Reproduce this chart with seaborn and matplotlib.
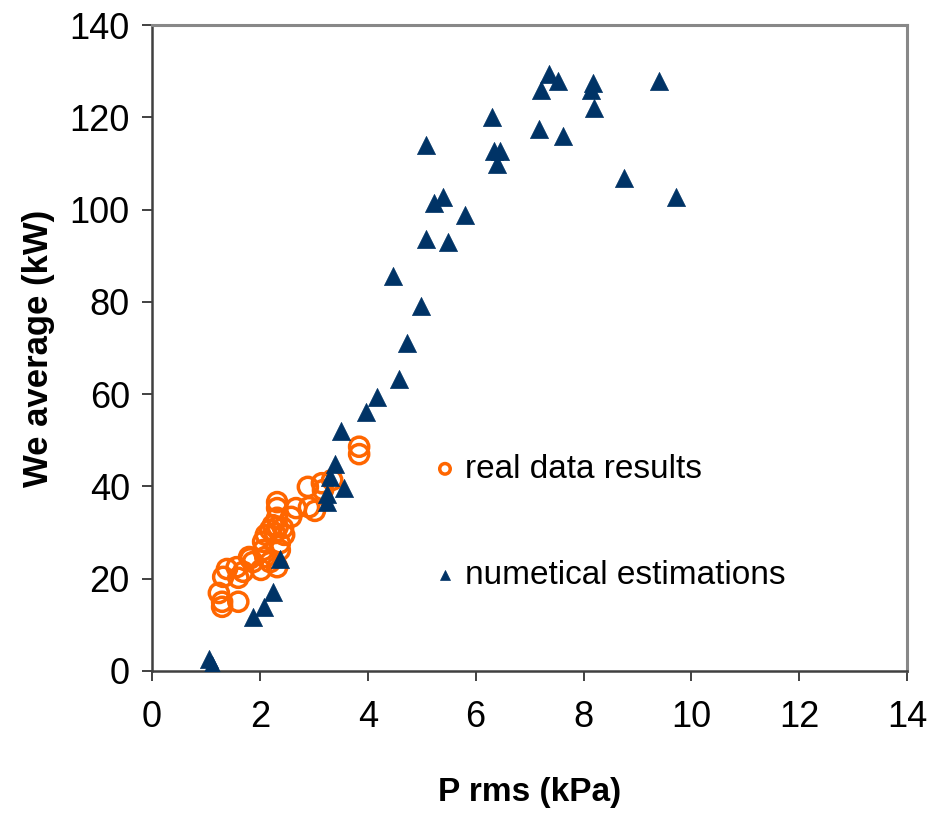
import numpy as np
import pandas as pd
import seaborn as sns
import matplotlib
matplotlib.use("Agg")
import matplotlib.pyplot as plt

# real data results (orange hollow circles)
real_x = [3.84, 3.84, 3.34, 3.15, 2.89, 3.17, 2.32, 2.32, 2.67, 2.91,
          3.02, 2.58, 2.32, 2.24, 2.33, 2.43, 2.19, 2.28, 2.45, 2.11,
          2.06, 2.37, 2.06, 2.37, 1.80, 2.10, 1.87, 2.19, 1.57, 1.39,
          1.69, 2.02, 2.32, 1.32, 1.60, 1.24, 1.30, 1.30, 1.60, 1.82]
real_y = [48.6, 47.0, 41.4, 40.7, 39.9, 39.2, 36.6, 35.3, 35.3, 35.5,
          34.7, 33.4, 33.2, 31.6, 31.2, 31.0, 30.6, 29.9, 29.5, 29.5,
          28.0, 27.7, 26.2, 26.2, 24.7, 24.7, 23.6, 23.6, 22.5, 22.1,
          21.5, 21.9, 22.5, 20.4, 20.2, 16.9, 15.0, 13.9, 15.0, 24.4]

# numerical estimations (navy triangles)
num_x = [7.36, 7.53, 7.21, 8.18, 8.14, 9.40, 8.20, 6.30, 7.18, 7.62,
         5.08, 6.34, 6.45, 6.40, 8.75, 9.72, 5.39, 5.23, 5.80, 5.08,
         5.49, 4.47, 4.99, 4.73, 4.58, 4.17, 3.97, 3.50, 3.39, 3.30,
         3.56, 3.25, 3.25, 2.37, 2.24, 2.08, 1.87, 1.05, 1.12, 1.12]
num_y = [129.4, 127.9, 125.9, 127.4, 125.9, 127.9, 122.0, 120.0, 117.5, 116.0,
         114.0, 112.7, 112.7, 109.9, 106.8, 102.7, 102.7, 101.4, 98.8, 93.6,
         93.0, 85.6, 79.1, 71.1, 63.3, 59.4, 56.1, 52.0, 44.9, 42.0,
         39.7, 38.4, 36.7, 24.3, 17.1, 13.9, 11.7, 2.6, 1.4, 0.2]

x_ticks = [0, 2, 4, 6, 8, 10, 12, 14]
y_ticks = [0, 20, 40, 60, 80, 100, 120, 140]

real = pd.DataFrame({"P rms (kPa)": real_x, "We average (kW)": real_y})
num = pd.DataFrame({"P rms (kPa)": num_x, "We average (kW)": num_y})

sns.set_style("white")
plt.rcParams["font.family"] = ["Liberation Sans", "DejaVu Sans"]
plt.rcParams["text.color"] = "black"
plt.rcParams["axes.labelcolor"] = "black"
plt.rcParams["xtick.color"] = "black"
plt.rcParams["ytick.color"] = "black"

fig = plt.figure(figsize=(9.44, 8.13), dpi=100)
ax = fig.add_axes([0.161, 0.1747, 0.8, 0.7945])

sns.scatterplot(data=real, x="P rms (kPa)", y="We average (kW)", ax=ax,
                marker="o", s=190, facecolors="none", edgecolor="#FF6600",
                linewidth=2.5, label="real data results", zorder=2)
sns.scatterplot(data=num, x="P rms (kPa)", y="We average (kW)", ax=ax,
                marker="^", s=170, color="#003366", edgecolor="#003366",
                linewidth=0.5, label="numetical estimations", zorder=3)

ax.set_xlim(0, 14)
ax.set_ylim(0, 140)
ax.set_xticks(x_ticks)
ax.set_yticks(y_ticks)
ax.tick_params(axis="both", which="major", direction="out", length=7,
               width=1.3, color="#333333", labelsize=26, pad=9,
               left=True, bottom=True)
ax.tick_params(axis="x", pad=14)

for side in ["left", "bottom"]:
    ax.spines[side].set_color("#404040")
    ax.spines[side].set_linewidth(1.8)
for side in ["top", "right"]:
    ax.spines[side].set_color("#888888")
    ax.spines[side].set_linewidth(2.2)

ax.set_xlabel("P rms (kPa)", fontsize=24, fontweight="bold", labelpad=30)
ax.set_ylabel("We average (kW)", fontsize=25, fontweight="bold", labelpad=10)

ax.legend(loc="upper left", bbox_to_anchor=(0.335, 0.383), frameon=False,
          fontsize=24, markerscale=0.55, handlelength=0.6, handletextpad=0.3,
          labelspacing=2.25)

fig.savefig("out.png", dpi=100)
